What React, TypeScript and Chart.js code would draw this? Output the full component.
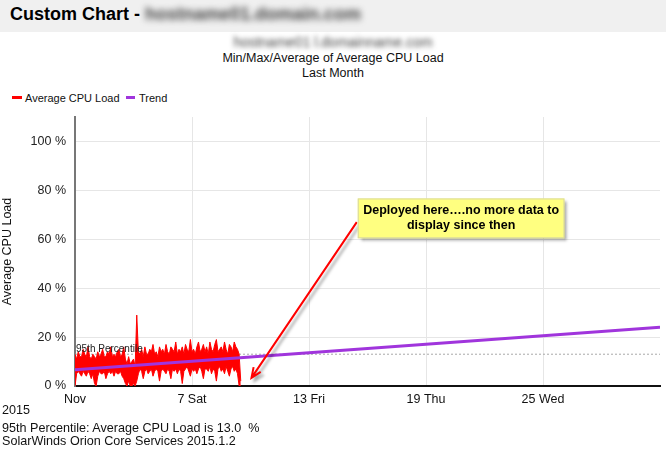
import React, { useEffect, useRef } from "react";
import { Chart, registerables } from "chart.js";

Chart.register(...registerables);

// ---------- data ----------
const X_TICK_DAYS = [0, 6, 12, 18, 24, 30];
const X_TICK_LABELS = ["Nov", "7 Sat", "13 Fri", "19 Thu", "25 Wed", ""];
const Y_TICK_STEP = 20;
const Y_MAX = 110;
const SAMPLE_HOURS = 2;

const MAX_LOAD = [
  13, 11, 14, 12, 12, 15, 13, 12, 16, 12, 11, 13, 12, 11, 14, 12, 13, 15, 12, 12, 14, 13, 16, 12, 13, 12, 14, 15, 12, 13, 16,
  11, 9, 12, 9, 10, 11, 8, 29,
  14, 13, 15, 12, 16, 13, 13, 15, 14, 17, 13, 14, 12, 16, 14, 15, 13, 17, 14, 13, 16, 15, 14, 18, 13, 15, 14, 16, 13, 17,
  15, 14, 19, 14, 15, 13, 16, 18, 14, 15, 17, 14, 16, 13, 18, 15, 14, 17, 19, 14, 15, 16, 14, 18, 15, 13, 17, 16, 14, 18,
  16, 15,
  13, 2,
];
const MIN_LOAD = [
  0, 5, 6, 5, 4, 6, 5, 4, 6, 5, 3, 5, 1, 0, 4, 6, 5, 5, 6, 3, 5, 6, 5, 6, 4, 6, 5, 5, 6, 4, 3,
  1, 0, 2, 0, 0, 1, 0, 2,
  5, 7, 6, 3, 6, 7, 5, 6, 7, 4, 6, 7, 6, 2, 6, 7, 6, 5, 7, 6, 3, 7, 6, 7, 5, 7, 6, 1, 6, 7,
  8, 6, 4, 7, 6, 7, 5, 7, 8, 6, 3, 7, 7, 6, 8, 5, 7, 6, 2, 7, 8, 6, 7, 5, 8, 6, 4, 7, 8, 6,
  7, 5,
  0, 0,
];
const TREND_DAYS = [0, 30];
const TREND_VALUES = [6.6, 24.0];
const PERCENTILE_95 = 13.0;

const NOTE_LINES = ["Deployed here\u2026.no more data to", "display since then"];
const NOTE_BOX = { fromDay: 14.5, toDay: 25.1, top: 76.7, bottom: 60.4 };
const NOTE_ARROW = { fromDay: 14.45, fromY: 67, toDay: 9.05, toY: 3.3 };

const FONT = "Arial, 'Liberation Sans', sans-serif";
const RED = "#ff0000";
const PURPLE = "#a035dc";

const notePlugin = {
  id: "notePlugin",
  afterDatasetsDraw(chart: any) {
    const { ctx, scales } = chart;
    const x = scales.x;
    const y = scales.y;
    ctx.save();
    // 95th percentile label
    ctx.font = `10px ${FONT}`;
    ctx.fillStyle = "#222";
    ctx.textAlign = "left";
    ctx.textBaseline = "alphabetic";
    ctx.fillText("95th Percentile", x.getPixelForValue(0) + 1, y.getPixelForValue(PERCENTILE_95) - 2);

    // arrow
    const x1 = x.getPixelForValue(NOTE_ARROW.fromDay);
    const y1 = y.getPixelForValue(NOTE_ARROW.fromY);
    const x2 = x.getPixelForValue(NOTE_ARROW.toDay);
    const y2 = y.getPixelForValue(NOTE_ARROW.toY);
    const ang = Math.atan2(y2 - y1, x2 - x1);
    const head = 11;
    ctx.lineWidth = 2;
    ctx.shadowColor = "rgba(0,0,0,0.35)";
    ctx.shadowOffsetX = 3;
    ctx.shadowOffsetY = 3;
    ctx.shadowBlur = 3;
    ctx.strokeStyle = RED;
    ctx.beginPath();
    ctx.moveTo(x1, y1);
    ctx.lineTo(x2, y2);
    ctx.moveTo(x2 - head * Math.cos(ang - 0.4), y2 - head * Math.sin(ang - 0.4));
    ctx.lineTo(x2, y2);
    ctx.lineTo(x2 - head * Math.cos(ang + 0.4), y2 - head * Math.sin(ang + 0.4));
    ctx.stroke();

    // box
    const bx1 = x.getPixelForValue(NOTE_BOX.fromDay);
    const bx2 = x.getPixelForValue(NOTE_BOX.toDay);
    const by1 = y.getPixelForValue(NOTE_BOX.top);
    const by2 = y.getPixelForValue(NOTE_BOX.bottom);
    ctx.fillStyle = "#ffff80";
    ctx.fillRect(bx1, by1, bx2 - bx1, by2 - by1);
    ctx.shadowColor = "transparent";
    ctx.strokeStyle = "#d8d8a0";
    ctx.lineWidth = 1;
    ctx.strokeRect(bx1 + 0.5, by1 + 0.5, bx2 - bx1 - 1, by2 - by1 - 1);
    ctx.fillStyle = "#000";
    ctx.font = `bold 12.5px ${FONT}`;
    ctx.textAlign = "center";
    ctx.textBaseline = "middle";
    const cx = (bx1 + bx2) / 2;
    const cy = (by1 + by2) / 2;
    ctx.fillText(NOTE_LINES[0], cx, cy - 7.5);
    ctx.fillText(NOTE_LINES[1], cx, cy + 7.5);
    ctx.restore();
  },
};

function ChartCanvas() {
  const ref = useRef<HTMLCanvasElement | null>(null);
  useEffect(() => {
    if (!ref.current) return;
    const toDay = (i: number) => (i * SAMPLE_HOURS) / 24;
    const chart = new Chart(ref.current, {
      type: "line",
      data: {
        datasets: [
          {
            label: "Trend",
            data: TREND_DAYS.map((d, i) => ({ x: d, y: TREND_VALUES[i] })),
            borderColor: PURPLE,
            borderWidth: 3,
            pointRadius: 0,
            fill: false,
          },
          {
            label: "Max",
            data: MAX_LOAD.map((v, i) => ({ x: toDay(i), y: v })),
            borderColor: RED,
            backgroundColor: RED,
            borderWidth: 1,
            pointRadius: 0,
            fill: "+1",
          },
          {
            label: "Min",
            data: MIN_LOAD.map((v, i) => ({ x: toDay(i), y: v })),
            borderColor: RED,
            borderWidth: 1,
            pointRadius: 0,
            fill: false,
          },
          {
            label: "95th",
            data: TREND_DAYS.map((d) => ({ x: d, y: PERCENTILE_95 })),
            borderColor: "#a8a8a8",
            borderWidth: 1,
            borderDash: [2, 2],
            pointRadius: 0,
            fill: false,
          },
        ],
      },
      options: {
        animation: false,
        responsive: false,
        devicePixelRatio: 1,
        layout: { padding: { top: 117, right: 4, bottom: 40, left: 0 } },
        plugins: { legend: { display: false }, tooltip: { enabled: false }, title: { display: false } },
        scales: {
          x: {
            type: "linear",
            min: 0,
            max: 30,
            afterBuildTicks: (s: any) => {
              s.ticks = X_TICK_DAYS.map((v) => ({ value: v }));
            },
            afterFit: (s: any) => {
              s.height = 25;
            },
            ticks: {
              autoSkip: false,
              maxRotation: 0,
              padding: 6,
              color: "#111",
              font: { family: FONT, size: 12.5 },
              callback: (v: any) => {
                const idx = X_TICK_DAYS.indexOf(Number(v));
                return idx >= 0 ? X_TICK_LABELS[idx] : "";
              },
            },
            grid: {
              drawTicks: false,
              color: (c: any) => (c.tick && (c.tick.value === 0 || c.tick.value === 30) ? "rgba(0,0,0,0)" : "#e6e6e6"),
            },
            border: { color: "#111", width: 2 },
          },
          y: {
            type: "linear",
            min: 0,
            max: Y_MAX,
            afterFit: (s: any) => {
              s.width = 75;
            },
            ticks: {
              stepSize: Y_TICK_STEP,
              includeBounds: false,
              padding: 9,
              color: "#222",
              font: { family: FONT, size: 12.5 },
              callback: (v: any) => `${v} %`,
            },
            grid: { drawTicks: false, color: "#e6e6e6" },
            border: { color: "#777", width: 2 },
            title: {
              display: true,
              text: "Average CPU Load",
              color: "#111",
              font: { family: FONT, size: 12.5 },
              padding: 0,
            },
          },
        },
      },
      plugins: [notePlugin],
    } as any);
    return () => chart.destroy();
  }, []);
  return <canvas ref={ref} width={666} height={451} style={{ position: "absolute", left: 0, top: 0, width: 666, height: 451 }} />;
}

export default function App() {
  const text: React.CSSProperties = { position: "absolute", fontFamily: FONT, color: "#111", whiteSpace: "nowrap" };
  return (
    <div style={{ position: "fixed", left: 0, top: 0, width: 666, height: 451, background: "#fff", overflow: "hidden" }}>
      <div style={{ position: "absolute", left: 0, top: 0, width: 666, height: 32, background: "#f0f0f0" }} />
      <div style={{ ...text, left: 10, top: 0, height: 28, lineHeight: "28px", fontSize: 18, fontWeight: "bold", color: "#000" }}>
        Custom Chart -{" "}
        <span style={{ filter: "blur(3px)", color: "#444" }}>hostname01.domain.com</span>
      </div>
      <div style={{ ...text, left: 0, width: 666, top: 34, lineHeight: "16px", fontSize: 14, textAlign: "center" }}>
        <span style={{ filter: "blur(2.5px)", color: "#444" }}>hostname01 l.domainname.com</span>
      </div>
      <div style={{ ...text, left: 0, width: 666, top: 51, lineHeight: "14px", fontSize: 12.5, textAlign: "center" }}>
        Min/Max/Average of Average CPU Load
      </div>
      <div style={{ ...text, left: 0, width: 666, top: 66, lineHeight: "14px", fontSize: 12.5, textAlign: "center" }}>
        Last Month
      </div>
      <div style={{ position: "absolute", left: 12, top: 96, width: 10, height: 3, background: RED }} />
      <div style={{ ...text, left: 25, top: 91, lineHeight: "14px", fontSize: 11 }}>Average CPU Load</div>
      <div style={{ position: "absolute", left: 126, top: 96, width: 9, height: 3, background: PURPLE }} />
      <div style={{ ...text, left: 139, top: 91, lineHeight: "14px", fontSize: 11 }}>Trend</div>
      <ChartCanvas />
      <div style={{ ...text, left: 2, top: 403, lineHeight: "14px", fontSize: 12.6 }}>2015</div>
      <div style={{ ...text, left: 2, top: 421, lineHeight: "14px", fontSize: 12.6 }}>95th Percentile: Average CPU Load is 13.0&nbsp; %</div>
      <div style={{ ...text, left: 2, top: 434, lineHeight: "14px", fontSize: 12.6 }}>SolarWinds Orion Core Services 2015.1.2</div>
    </div>
  );
}
